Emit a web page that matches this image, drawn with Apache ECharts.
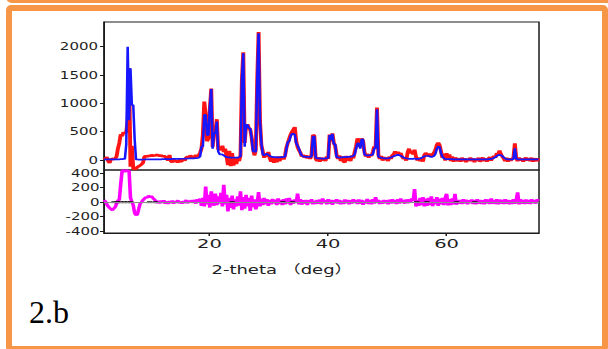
<!DOCTYPE html>
<html>
<head>
<meta charset="utf-8">
<script src="https://cdn.jsdelivr.net/npm/echarts@6/dist/echarts.min.js"></script>
<style>
  html, body { margin: 0; padding: 0; background: #fff; }
  body { position: relative; width: 608px; height: 349px; overflow: hidden; }
  .strip { position: absolute; left: 6px; top: -14px; width: 620px; height: 17px;
           background: #F79646; border-radius: 6px; }
  .box { position: absolute; left: 6px; top: 5px; width: 602px; height: 347px;
         box-sizing: border-box; border: 6.5px solid #F79646; border-radius: 5px; }
  .caption { position: absolute; left: 29px; top: 296px; font: 32px/32px "Liberation Serif", serif;
             color: #000; }
  /* the plot is laid out narrow and stretched sideways, like a widened figure */
  #chart { position: absolute; left: 0; top: 0; width: 405.333px; height: 349px;
           transform: scaleX(1.5); transform-origin: 0 0; }
</style>
</head>
<body>
<div class="strip"></div>
<div class="box"></div>
<div class="caption">2.b</div>
<div id="chart"></div>
<script>
// Powder pattern: 2-theta scan starting at 2.2 deg, 0.235 deg per step
const scanStart = 2.2;
const scanStep = 0.235;

// observed intensity (eight steps per row)
const observed = [
  40, 20, 50, -20, -50, 10, 20, 15,
  25, 60, 200, 300, 450, 420, 490, 470,
  500, 700, 1620, -120, 250, -150, -165, -150,
  -125, -110, -95, -75, -50, 60, 70, 55,
  80, 65, 90, 70, 85, 75, 95, 80,
  70, 85, 60, 75, 55, 30, -10, 90,
  -20, -40, 10, -30, -10, -45, 5, -25,
  -20, 20, -10, 40, 60, 30, 80, 50,
  70, 40, 90, 60, 80, 130, 200, 450,
  1030, 800, 330, 380, 900, 1260, 230, 500,
  480, 720, 180, 230, 170, 250, 140, 200,
  60, -90, 160, -110, 120, -100, 40, -70,
  30, -20, 80, 1400, 1900, 300, 600, 630,
  560, 540, 400, 200, 80, 180, 1400, 2260,
  690, 260, 150, 40, 120, 60, 140, 30,
  -30, 50, -50, 40, -40, 60, -20, 30,
  60, 10, 80, 220, 300, 380, 450, 500,
  540, 580, 330, 230, 170, 130, 60, 90,
  40, 80, 30, 70, 20, 90, 440, 430,
  20, -20, 50, -30, 40, -10, 30, -20,
  60, 20, 450, 330, 470, 300, 250, 90,
  20, 80, -20, 60, -30, -40, 70, -10,
  40, -20, 80, 30, 140, 240, 383, 300,
  230, 380, 340, 140, 60, 110, 40, 100,
  70, 140, 240, 200, 925, 90, 20, 70,
  -10, 50, 0, 40, -20, 60, 20, 80,
  100, 150, 110, 140, 100, 120, 60, 20,
  40, -10, 130, 200, 120, 160, 100, 180,
  60, -10, 40, -20, 30, -30, 90, 120,
  100, 70, 110, 60, 90, 130, 180, 270,
  305, 260, 150, 40, 110, -10, 120, 20,
  100, -20, 60, -30, 40, 10, -20, 30,
  -30, 40, -20, 30, -40, 20, -10, 40,
  -20, 30, -40, 20, -10, 40, -30, 10,
  40, -20, 30, -30, 20, 50, -10, 40,
  70, 40, 120, 90, 165, 100, 60, 30,
  -20, 40, -30, 30, -10, 20, 40, 295,
  30, -20, 40, -10, 30, -30, 20, 40,
  -10, 30, -20, 40, -30, 20, 10, -20,
  30
];

// calculated profile
const calculated = [
  10, 10, 10, 10, 10, 10, 10, 10,
  10, 10, 12, 12, 14, 15, 18, 20,
  280, 2000, 700, 1620, 970, 970, 370, 10,
  8, 6, 8, 6, 8, 8, 10, 10,
  10, 10, 12, 12, 12, 12, 12, 12,
  12, 12, 14, 14, 14, 14, 16, 16,
  16, 18, 18, 18, 20, 20, 20, 22,
  22, 22, 24, 24, 26, 26, 28, 28,
  30, 30, 32, 34, 40, 60, 235, 240,
  795, 795, 440, 440, 930, 1253, 200, 475,
  475, 680, 150, 100, 100, 95, 80, 60,
  50, 45, 45, 40, 40, 40, 40, 40,
  40, 50, 60, 1412, 1883, 235, 618, 618,
  560, 560, 383, 150, 147, 147, 1412, 2236,
  665, 300, 100, 80, 100, 110, 90, 70,
  60, 55, 50, 50, 45, 45, 45, 50,
  50, 55, 60, 200, 320, 330, 420, 460,
  460, 450, 300, 250, 200, 120, 80, 60,
  60, 55, 55, 55, 55, 60, 412, 412,
  40, 30, 30, 30, 25, 25, 25, 30,
  30, 35, 441, 350, 460, 280, 280, 50,
  45, 40, 45, 45, 50, 50, 50, 55,
  55, 60, 60, 70, 100, 200, 294, 294,
  200, 365, 365, 100, 80, 80, 80, 85,
  85, 100, 206, 206, 895, 60, 45, 40,
  35, 30, 30, 30, 30, 35, 45, 55,
  65, 75, 85, 90, 85, 75, 60, 45,
  35, 30, 25, 20, 20, 20, 20, 25,
  20, 20, 20, 25, 35, 50, 65, 70,
  70, 70, 60, 55, 60, 70, 110, 200,
  235, 230, 120, 60, 30, 20, 15, 15,
  15, 15, 15, 12, 12, 12, 12, 12,
  12, 12, 12, 12, 12, 12, 12, 12,
  12, 12, 12, 12, 12, 12, 12, 12,
  12, 12, 12, 12, 15, 15, 20, 25,
  35, 50, 70, 85, 88, 85, 70, 45,
  25, 15, 12, 12, 12, 12, 15, 205,
  20, 12, 12, 12, 12, 12, 12, 12,
  12, 12, 12, 12, 12, 12, 12, 12,
  12
];

// observed minus calculated
const difference = [
  28, 10, -30, -60, -80, -95, -111, -90,
  -70, -20, 25, 30, 250, 430, 445, 420,
  445, 430, 440, 60, 5, -40, -150, -181,
  -170, -90, -20, 0, 30, 50, 70, 60,
  90, 70, 85, 60, 40, 20, -10, 15,
  -15, 20, -10, 25, -20, 10, -25, 15,
  -10, 20, -20, 15, -5, 25, -15, 10,
  -20, 15, -10, 30, -15, 20, -5, 25,
  -10, 30, -20, 40, 10, 50, -50, 60,
  -60, 215, -30, 100, -75, 150, 20, -50,
  120, -40, 80, -20, 130, -60, 240, -30,
  100, -130, 60, -80, 90, -100, 40, -60,
  80, -50, 150, -110, 70, -90, 100, -60,
  60, -120, 90, -70, 40, -100, -20, 140,
  -60, 50, -40, 60, -30, 40, -50, 30,
  -30, 45, -20, 35, -40, 50, -25, 30,
  -40, 40, -30, 50, -20, 60, -40, 30,
  -20, 35, -10, 120, -30, 40, -35, 25,
  -20, 30, -40, 25, -15, 40, -30, 20,
  -25, 30, -20, 35, -30, 50, -10, 25,
  -30, 40, -20, 30, -35, 25, -15, 40,
  -20, 30, -30, 20, -25, 35, -15, 30,
  -30, 25, -20, 40, -10, 30, -25, 35,
  -20, 30, -35, 20, -15, 45, -25, 30,
  -30, 40, -20, 70, -10, 30, -25, 20,
  -20, 30, -15, 25, -30, 35, -20, 40,
  -15, 30, -25, 40, -20, 50, -10, 30,
  -20, 35, -15, 40, -10, 50, 20, 181,
  -60, 30, -50, 60, -40, 70, -60, 50,
  -50, 60, -40, 80, -55, 40, -30, 70,
  -50, 50, -30, 60, -40, 60, 115, -45,
  40, -40, 50, -30, 115, -35, 30, -20,
  30, -25, 40, -20, 35, -30, 25, -15,
  35, -25, 30, -30, 40, -20, 30, -25,
  25, -30, 40, -20, 35, -25, 50, -20,
  30, -25, 40, -30, 35, -20, 30, -25,
  40, -20, 30, -30, 25, -25, 40, -20,
  30, 135, -30, 40, -20, 30, -25, 35,
  -20, 30, -25, 40, -15, 30, -20, 35,
  20
];

// reflection positions (2-theta, deg)
const reflections = [3.89, 4.45, 5.01, 5.58, 6.14, 6.71, 9.91, 10.85, 23.84, 32.41, 34.01, 54.99, 56.69, 61.68, 64.79];

// axis ranges and tick labels
const thetaRange = [2.2, 75.6];
const xTicks = [20, 40, 60];
const intensityRange = [-177, 2436];
const intensityTicks = [0, 500, 1000, 1500, 2000];
const diffRange = [-428, 446];
const diffTicks = [-400, -200, 0, 200, 400];
const xTitle = '2-theta （deg）';

const SX = 1.5;                 // horizontal stretch of the plot container
const px = v => v / SX;         // page x -> container x

const withTheta = arr => arr.map((v, i) => [scanStart + i * scanStep, v]);
const plain = v => String(v);

const frame = '#1a1a1a';
const labelFont = 'DejaVu Sans, Verdana, sans-serif';

const chart = echarts.init(document.getElementById('chart'), null, { renderer: 'svg' });

chart.setOption({
  animation: false,
  grid: [
    { left: px(104), top: 22, width: px(435), height: 148, show: true,
      borderColor: frame, borderWidth: 1, backgroundColor: 'transparent' },
    { left: px(104), top: 170, width: px(435), height: 63, show: true,
      borderColor: frame, borderWidth: 1, backgroundColor: 'transparent' }
  ],
  xAxis: [
    { gridIndex: 0, type: 'value', min: thetaRange[0], max: thetaRange[1],
      axisLine: { show: false }, axisTick: { show: false },
      axisLabel: { show: false }, splitLine: { show: false } },
    { gridIndex: 1, type: 'value', min: thetaRange[0], max: thetaRange[1],
      axisLine: { show: true, onZero: false, lineStyle: { color: frame, width: 1 } },
      axisTick: { show: true, customValues: xTicks, length: 3, lineStyle: { color: frame } },
      axisLabel: { customValues: xTicks, fontSize: 13, color: '#1e1e1e', margin: 4,
                   fontFamily: labelFont, formatter: plain },
      splitLine: { show: false } }
  ],
  yAxis: [
    { gridIndex: 0, type: 'value', min: intensityRange[0], max: intensityRange[1],
      axisLine: { show: true, onZero: false, lineStyle: { color: frame, width: 1 } },
      axisTick: { show: true, customValues: intensityTicks, length: 2.7, lineStyle: { color: frame } },
      axisLabel: { customValues: intensityTicks, fontSize: 10, color: '#1e1e1e', margin: 4,
                   fontFamily: labelFont, formatter: plain },
      splitLine: { show: false } },
    { gridIndex: 1, type: 'value', min: diffRange[0], max: diffRange[1],
      axisLine: { show: true, onZero: false, lineStyle: { color: frame, width: 1 } },
      axisTick: { show: true, customValues: diffTicks, length: 2.7, lineStyle: { color: frame } },
      axisLabel: { customValues: diffTicks, fontSize: 10, color: '#1e1e1e', margin: 3,
                   fontFamily: labelFont, formatter: plain },
      splitLine: { show: false } }
  ],
  series: [
    { name: 'observed', type: 'line', xAxisIndex: 0, yAxisIndex: 0, z: 2,
      data: withTheta(observed), showSymbol: false, silent: true, clip: true,
      lineStyle: { color: '#ff1414', width: 2.6, join: 'bevel' } },
    { name: 'calculated', type: 'line', xAxisIndex: 0, yAxisIndex: 0, z: 3,
      data: withTheta(calculated), showSymbol: false, silent: true, clip: true,
      lineStyle: { color: '#1616ff', width: 1.7, join: 'bevel' } },
    { name: 'zero', type: 'line', xAxisIndex: 1, yAxisIndex: 1, z: 1, data: [],
      silent: true,
      markLine: { silent: true, symbol: 'none', label: { show: false },
                  lineStyle: { color: '#8c8c8c', width: 1, type: 'solid' },
                  data: [{ yAxis: 0 }] } },
    { name: 'difference', type: 'line', xAxisIndex: 1, yAxisIndex: 1, z: 2,
      data: withTheta(difference), showSymbol: false, silent: true, clip: true,
      lineStyle: { color: '#ff00ff', width: 2.4, join: 'bevel' } },
    { name: 'reflections', type: 'scatter', xAxisIndex: 1, yAxisIndex: 1, z: 4,
      data: reflections.map(t => [t, 0]), symbol: 'rect', symbolSize: [3.5, 2],
      silent: true, itemStyle: { color: '#000' } }
  ],
  graphic: [
    { type: 'text', x: px(282), y: 270, silent: true,
      style: { text: xTitle, fontSize: 12, fontFamily: 'DejaVu Sans, "Noto Sans CJK SC", sans-serif',
               fill: '#222', align: 'center', verticalAlign: 'middle' } }
  ]
});
</script>
</body>
</html>
